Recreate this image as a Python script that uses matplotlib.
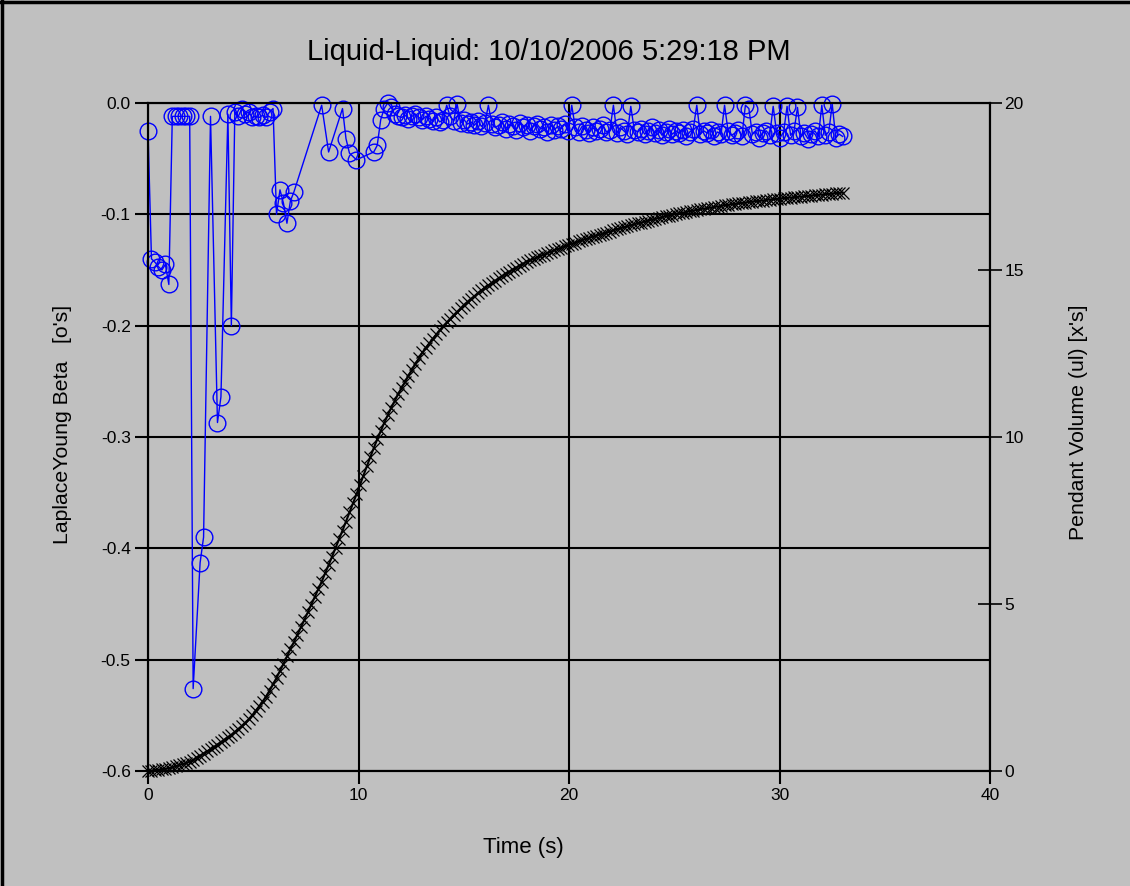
import numpy as np
import matplotlib
matplotlib.use("Agg")
import matplotlib.pyplot as plt
from matplotlib.lines import Line2D

plt.rcParams['font.family'] = ['Liberation Sans', 'DejaVu Sans']

# frame interval of the camera (s), one frame per sample
frame_dt = 0.165

# pendant volume (ul), one value per frame
volume = [
    0.00, 0.01, 0.03, 0.04, 0.05, 0.07, 0.08, 0.11, 0.14, 0.18,
    0.21, 0.24, 0.28, 0.33, 0.40, 0.46, 0.52, 0.59, 0.65, 0.72,
    0.79, 0.86, 0.94, 1.01, 1.08, 1.17, 1.26, 1.35, 1.45, 1.55,
    1.67, 1.80, 1.94, 2.08, 2.23, 2.41, 2.59, 2.79, 3.00, 3.21,
    3.43, 3.65, 3.86, 4.08, 4.30, 4.52, 4.75, 4.98, 5.21, 5.44,
    5.67, 5.92, 6.17, 6.42, 6.68, 6.94, 7.20, 7.47, 7.74, 8.01,
    8.28, 8.56, 8.84, 9.12, 9.40, 9.67, 9.93, 10.18, 10.42, 10.65,
    10.87, 11.08, 11.28, 11.47, 11.65, 11.84, 12.02, 12.19, 12.36, 12.53,
    12.67, 12.81, 12.94, 13.07, 13.20, 13.32, 13.43, 13.54, 13.65, 13.75,
    13.85, 13.96, 14.05, 14.14, 14.22, 14.31, 14.39, 14.47, 14.54, 14.61,
    14.68, 14.75, 14.82, 14.89, 14.95, 15.01, 15.07, 15.13, 15.19, 15.25,
    15.29, 15.33, 15.38, 15.42, 15.46, 15.51, 15.55, 15.59, 15.63, 15.67,
    15.71, 15.75, 15.79, 15.82, 15.86, 15.89, 15.93, 15.96, 16.00, 16.03,
    16.06, 16.09, 16.12, 16.15, 16.19, 16.22, 16.25, 16.28, 16.31, 16.34,
    16.37, 16.40, 16.42, 16.45, 16.48, 16.51, 16.53, 16.56, 16.58, 16.61,
    16.63, 16.66, 16.68, 16.70, 16.72, 16.74, 16.76, 16.78, 16.80, 16.82,
    16.84, 16.85, 16.87, 16.89, 16.90, 16.92, 16.94, 16.95, 16.97, 16.98,
    17.00, 17.01, 17.02, 17.04, 17.05, 17.06, 17.07, 17.08, 17.10, 17.11,
    17.12, 17.13, 17.14, 17.15, 17.16, 17.17, 17.18, 17.19, 17.20, 17.21,
    17.22, 17.23, 17.24, 17.25, 17.26, 17.27, 17.28, 17.29, 17.30, 17.31,
    17.32,
]

nan = float('nan')
# Laplace-Young beta per frame, nan where the fit failed
beta = [
    -0.025, -0.140, -0.143, -0.147, -0.150, -0.145, -0.163, -0.012, -0.012, -0.012,
    -0.012, -0.012, -0.012, -0.526, nan, -0.413, -0.390, nan, -0.012, nan,
    -0.287, -0.264, nan, -0.010, -0.200, -0.008, -0.012, -0.005, -0.010, -0.008,
    -0.013, -0.012, -0.013, -0.011, -0.013, -0.008, -0.005, -0.100, -0.078, -0.090,
    -0.108, -0.088, -0.080, nan, nan, nan, nan, nan, nan, nan,
    -0.002, nan, -0.044, nan, nan, nan, -0.005, -0.032, -0.045, nan,
    -0.051, nan, nan, nan, nan, -0.044, -0.038, -0.015, -0.005, 0.000,
    -0.004, -0.010, -0.012, -0.013, -0.011, -0.014, -0.012, -0.010, -0.013, -0.015,
    -0.012, -0.014, -0.016, -0.013, -0.017, -0.015, -0.002, -0.012, -0.016, -0.001,
    -0.018, -0.015, -0.019, -0.017, -0.020, -0.016, -0.021, -0.018, -0.002, -0.019,
    -0.022, -0.020, -0.017, -0.023, -0.019, -0.021, -0.024, -0.018, -0.022, -0.020,
    -0.025, -0.021, -0.019, -0.023, -0.022, -0.026, -0.020, -0.024, -0.021, -0.023,
    -0.019, -0.025, -0.002, -0.022, -0.026, -0.021, -0.024, -0.027, -0.022, -0.025,
    -0.023, -0.020, -0.026, -0.024, -0.002, -0.027, -0.022, -0.025, -0.028, -0.003,
    -0.024, -0.026, -0.023, -0.028, -0.025, -0.022, -0.027, -0.024, -0.029, -0.026,
    -0.023, -0.028, -0.025, -0.027, -0.024, -0.030, -0.026, -0.023, -0.002, -0.028,
    -0.025, -0.027, -0.024, -0.030, -0.026, -0.028, -0.002, -0.025, -0.029, -0.027,
    -0.024, -0.030, -0.002, -0.005, -0.028, -0.026, -0.031, -0.027, -0.025, -0.029,
    -0.003, -0.027, -0.031, -0.026, -0.003, -0.029, -0.025, -0.004, -0.030, -0.027,
    -0.032, -0.028, -0.025, -0.030, -0.002, -0.029, -0.026, -0.001, -0.031, -0.028,
    -0.030,
]

x_ticks = [0, 10, 20, 30, 40]
beta_ticks = [-0.6, -0.5, -0.4, -0.3, -0.2, -0.1, 0.0]
beta_labels = ['-0.6', '-0.5', '-0.4', '-0.3', '-0.2', '-0.1', '0.0']
vol_ticks = [0, 5, 10, 15, 20]

t = np.arange(len(volume)) * frame_dt
beta = np.array(beta)
ok = ~np.isnan(beta)

W, H = 1130, 886
bg = '#c0c0c0'
fig = plt.figure(figsize=(W / 100, H / 100), dpi=100, facecolor=bg)
ax = fig.add_axes([148 / W, 1 - 771 / H, (990 - 148) / W, (771 - 103) / H])
ax.set_facecolor(bg)
ax2 = ax.twinx()

ax.plot(t[ok], beta[ok], color='blue', lw=1, marker='o', ms=12, mfc='none',
        mec='blue', mew=1, clip_on=False, zorder=3)
ax2.plot(t, volume, color='black', lw=1.5, marker='x', ms=9, mew=0.9,
         clip_on=False, zorder=3)

ax.set_xlim(0, 40)
ax.set_ylim(-0.6, 0.0)
ax2.set_ylim(0, 20)
ax.set_xticks(x_ticks)
ax.set_yticks(beta_ticks)
ax.set_yticklabels(beta_labels)
ax2.set_yticks(vol_ticks)

ax.grid(True, color='black', lw=1.5)
ax.set_axisbelow(True)
for a in (ax, ax2):
    for s in a.spines.values():
        s.set_linewidth(1.5)
        s.set_color('black')

ax.tick_params(axis='both', direction='out', length=9.5, width=1.5,
               labelsize=12.5, pad=3, colors='black')
ax2.tick_params(axis='y', direction='inout', length=17, width=1.2,
                labelsize=12.5, pad=2)

fig.text(549 / W, 1 - 52 / H, 'Liquid-Liquid: 10/10/2006 5:29:18 PM',
         ha='center', va='center', fontsize=21)
fig.text(523 / W, 1 - 848 / H, 'Time (s)', ha='center', va='center', fontsize=16)
fig.text(62 / W, 1 - 424 / H, "LaplaceYoung Beta   [o's]", rotation=90,
         ha='center', va='center', fontsize=15.3)
fig.text(1078 / W, 1 - 422 / H, "Pendant Volume (ul) [x's]", rotation=90,
         ha='center', va='center', fontsize=15.3)

# window frame
fig.add_artist(Line2D([0, 1], [1 - 1.5 / H, 1 - 1.5 / H], color='black', lw=2.5,
                      transform=fig.transFigure))
fig.add_artist(Line2D([1.5 / W, 1.5 / W], [0, 1], color='black', lw=2.5,
                      transform=fig.transFigure))

fig.savefig('out.png', dpi=100, facecolor=bg)
